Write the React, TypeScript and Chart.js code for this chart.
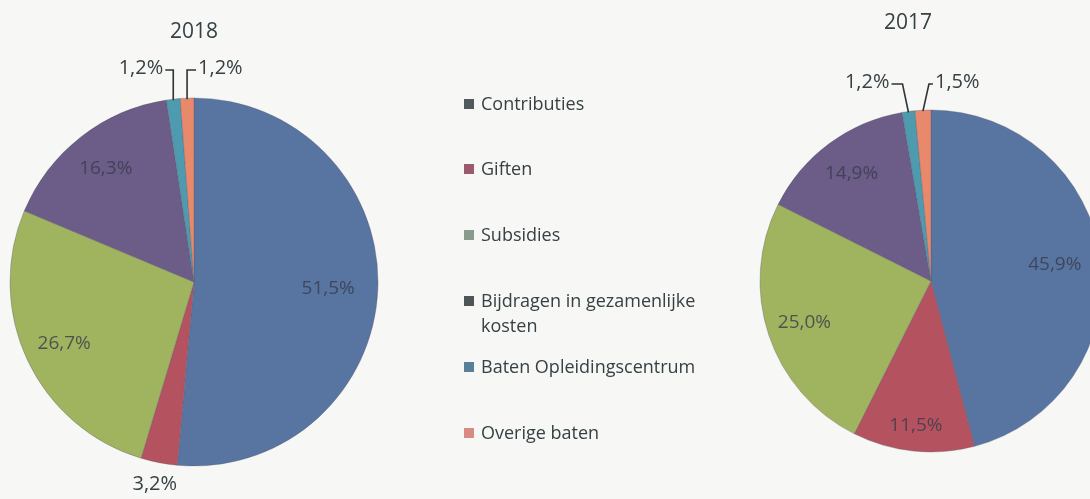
import React, { useEffect, useRef } from "react";
import { Chart, registerables } from "chart.js";

Chart.register(...registerables);

const categories = [
  "Contributies",
  "Giften",
  "Subsidies",
  "Bijdragen in gezamenlijke kosten",
  "Baten Opleidingscentrum",
  "Overige baten",
];
const years = ["2018", "2017"];
const values2018 = [51.5, 3.2, 26.7, 16.3, 1.2, 1.2];
const values2017 = [45.9, 11.5, 25.0, 14.9, 1.2, 1.5];

const sliceColors = ["#5874a0", "#b5525f", "#a0b35e", "#6b5c88", "#4e9bb0", "#e8896c"];
const legendColors = ["#505a5c", "#9b5a6e", "#8a9a8c", "#4e5556", "#5a7f98", "#d98a84"];

const BG = "#f7f7f5";
const TEXT = "#364144";
const FONT = "'Open Sans', 'DejaVu Sans', sans-serif";

const fmt = (v: number) => v.toFixed(1).replace(".", ",") + "%";

const labelPlugin = {
  id: "pieLabels",
  afterDatasetsDraw(chart: any, _args: any, opts: any) {
    const ctx = chart.ctx;
    const meta = chart.getDatasetMeta(0);
    const data = chart.data.datasets[0].data as number[];
    ctx.save();
    // title
    ctx.fillStyle = TEXT;
    ctx.font = `21px ${FONT}`;
    ctx.textAlign = "center";
    ctx.textBaseline = "middle";
    ctx.fillText(opts.title, opts.titleX, opts.titleY);

    let tinyIndex = 0;
    meta.data.forEach((arc: any, i: number) => {
      const p = arc.getProps(["x", "y", "startAngle", "endAngle", "outerRadius"], true);
      const mid = (p.startAngle + p.endAngle) / 2;
      const r = p.outerRadius;
      const v = data[i];
      const txt = fmt(v);
      if (v >= 5) {
        const f = v > 40 ? 0.73 : v < 12 ? 0.85 : 0.78;
        ctx.font = `19px ${FONT}`;
        ctx.fillStyle = "rgba(55,60,75,0.8)";
        ctx.textAlign = "center";
        ctx.textBaseline = "middle";
        ctx.fillText(txt, p.x + Math.cos(mid) * r * f, p.y + Math.sin(mid) * r * f);
      } else if (v >= 2) {
        const f = 1.12;
        ctx.font = `20px ${FONT}`;
        ctx.fillStyle = TEXT;
        ctx.textAlign = "center";
        ctx.textBaseline = "middle";
        ctx.fillText(txt, p.x + Math.cos(mid) * r * f, p.y + Math.sin(mid) * r * f);
      } else {
        const side = tinyIndex === 0 ? -1 : 1;
        tinyIndex++;
        const px = p.x + Math.cos(mid) * r;
        const py = p.y + Math.sin(mid) * r;
        const ey = p.y - r - opts.elbow;
        const ex = px + side * opts.slant;
        const hx = ex + side * (side < 0 ? opts.hlenL : opts.hlenR);
        ctx.strokeStyle = "#2f3436";
        ctx.lineWidth = 1.6;
        ctx.beginPath();
        ctx.moveTo(px, py + 1);
        ctx.lineTo(ex, ey);
        ctx.lineTo(hx, ey);
        ctx.stroke();
        ctx.font = `20px ${FONT}`;
        ctx.fillStyle = TEXT;
        ctx.textAlign = side < 0 ? "right" : "left";
        ctx.textBaseline = "middle";
        ctx.fillText(txt, hx + side * 2, ey - 2);
      }
    });
    ctx.restore();
  },
};

function PieCanvas(props: {
  values: number[];
  width: number;
  height: number;
  left: number;
  padding: { left: number; top: number; right: number; bottom: number };
  radius: number;
  plugOpts: any;
}) {
  const ref = useRef<HTMLCanvasElement | null>(null);
  useEffect(() => {
    if (!ref.current) return;
    const chart = new Chart(ref.current, {
      type: "pie",
      data: {
        labels: categories,
        datasets: [
          {
            data: props.values,
            backgroundColor: sliceColors,
            borderColor: "rgba(90,90,110,0.35)",
            borderWidth: 1,
          },
        ],
      },
      options: {
        responsive: false,
        animation: false,
        events: [],
        radius: props.radius,
        layout: { padding: props.padding },
        plugins: {
          legend: { display: false },
          tooltip: { enabled: false },
          title: { display: false },
          pieLabels: props.plugOpts,
        } as any,
      } as any,
      plugins: [labelPlugin],
    });
    return () => chart.destroy();
  }, []);
  return (
    <canvas
      ref={ref}
      width={props.width}
      height={props.height}
      style={{ position: "absolute", left: props.left, top: 0, width: props.width, height: props.height }}
    />
  );
}

export default function App() {
  return (
    <div
      style={{
        position: "absolute",
        left: 0,
        top: 0,
        width: 1090,
        height: 499,
        overflow: "hidden",
        background: BG,
        fontFamily: FONT,
      }}
    >
      <PieCanvas
        values={values2018}
        width={440}
        height={499}
        left={0}
        radius={184}
        padding={{ left: 10, top: 98, right: 62, bottom: 33 }}
        plugOpts={{ title: years[0], titleX: 194, titleY: 32, elbow: 28, slant: 0, hlenL: 8, hlenR: 9 }}
      />
      <PieCanvas
        values={values2017}
        width={420}
        height={499}
        left={700}
        radius={171}
        padding={{ left: 60, top: 110, right: 18, bottom: 47 }}
        plugOpts={{ title: years[1], titleX: 208, titleY: 23, elbow: 26, slant: 6, hlenL: 11, hlenR: 4 }}
      />
      {categories.map((c, i) => (
        <div
          key={c}
          style={{
            position: "absolute",
            left: 464,
            top: 103 + i * 65.8 - 12.5,
            width: 250,
            lineHeight: "25px",
            fontSize: 18,
            color: TEXT,
            display: "flex",
            alignItems: "flex-start",
          }}
        >
          <span
            style={{
              display: "inline-block",
              width: 10,
              height: 10,
              background: legendColors[i],
              marginTop: 8,
              marginRight: 7,
              flex: "0 0 auto",
            }}
          />
          <span>{c}</span>
        </div>
      ))}
    </div>
  );
}
